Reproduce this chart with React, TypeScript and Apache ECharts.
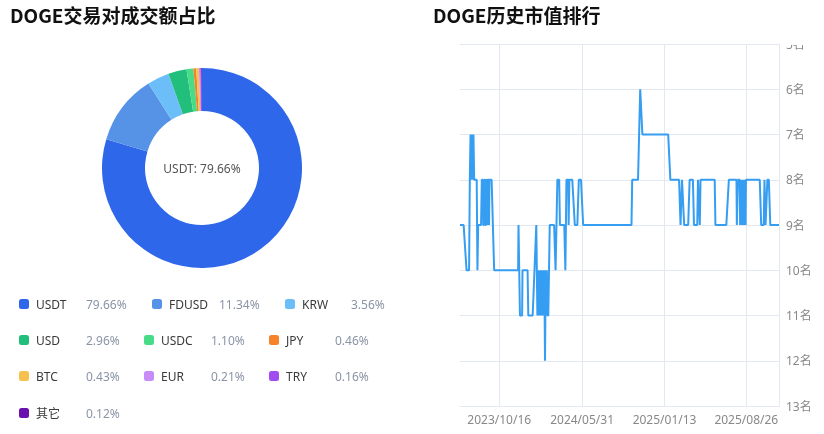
import React, { useEffect, useRef } from "react";
import * as echarts from "echarts";

// 交易对成交额占比
const pairNames = ["USDT", "FDUSD", "KRW", "USD", "USDC", "JPY", "BTC", "EUR", "TRY", "其它"];
const pairShares = [79.66, 11.34, 3.56, 2.96, 1.1, 0.46, 0.43, 0.21, 0.16, 0.12];
const pairColors = [
  "#2e67ea", "#5692e6", "#6cbef9", "#22be7b", "#49dc88",
  "#f6822a", "#f8c14d", "#c68cf8", "#9f4df0", "#6a10b1",
];

// 历史市值排名
const firstDate = "2023-06-30";
const lastDate = "2025-11-24";
const rankDates = [
  "2023-06-30", "2023-07-10", "2023-07-18", "2023-07-25", "2023-07-27", "2023-07-29", "2023-07-30",
  "2023-07-31", "2023-08-01", "2023-08-02", "2023-08-03", "2023-08-04", "2023-08-05", "2023-08-06",
  "2023-08-07", "2023-08-08", "2023-08-15", "2023-08-17", "2023-08-19", "2023-08-27", "2023-08-29",
  "2023-09-01", "2023-09-02", "2023-09-04", "2023-09-05", "2023-09-07", "2023-09-08", "2023-09-10",
  "2023-09-11", "2023-09-13", "2023-09-14", "2023-09-15", "2023-09-17", "2023-09-18", "2023-09-19",
  "2023-09-25", "2023-10-02", "2023-12-07", "2023-12-08", "2023-12-12", "2023-12-18", "2023-12-19",
  "2024-01-02", "2024-01-04", "2024-01-16", "2024-01-26", "2024-01-29", "2024-02-01", "2024-02-03",
  "2024-02-04", "2024-02-06", "2024-02-07", "2024-02-09", "2024-02-10", "2024-02-12", "2024-02-13",
  "2024-02-15", "2024-02-16", "2024-02-18", "2024-02-19", "2024-02-20", "2024-02-21", "2024-02-23",
  "2024-02-24", "2024-02-26", "2024-02-28", "2024-03-03", "2024-03-15", "2024-03-19", "2024-03-24",
  "2024-03-29", "2024-03-31", "2024-04-12", "2024-04-15", "2024-04-18", "2024-04-23", "2024-04-24",
  "2024-04-26", "2024-05-04", "2024-05-11", "2024-05-18", "2024-05-22", "2024-05-28", "2024-06-03",
  "2024-10-14", "2024-10-16", "2024-11-01", "2024-11-07", "2024-11-13", "2025-01-23", "2025-01-29",
  "2025-02-22", "2025-02-26", "2025-03-02", "2025-03-08", "2025-03-19", "2025-03-23", "2025-04-01",
  "2025-04-04", "2025-04-13", "2025-04-15", "2025-04-20", "2025-04-22", "2025-05-31", "2025-06-02",
  "2025-07-02", "2025-07-09", "2025-07-30", "2025-07-31", "2025-08-03", "2025-08-08", "2025-08-09",
  "2025-08-10", "2025-08-11", "2025-08-12", "2025-08-13", "2025-08-14", "2025-08-15", "2025-08-16",
  "2025-08-18", "2025-08-19", "2025-08-21", "2025-08-22", "2025-08-24", "2025-08-25", "2025-10-02",
  "2025-10-06", "2025-10-13", "2025-10-15", "2025-10-18", "2025-10-23", "2025-10-27", "2025-10-31",
  "2025-11-24",
];
const ranks = [
  9, 9, 10, 10, 8, 7, 8,
  7, 8, 7, 8, 7, 8, 7,
  7, 8, 8, 10, 9, 9, 8,
  8, 9, 9, 8, 8, 9, 9,
  8, 8, 9, 8, 8, 9, 8,
  8, 10, 10, 9, 11, 11, 10,
  10, 11, 11, 9, 11, 10, 11,
  10, 11, 10, 11, 10, 11, 10,
  11, 10, 11, 12, 11, 10, 11,
  10, 11, 11, 9, 9, 10, 8,
  8, 9, 9, 10, 8, 8, 9,
  8, 8, 9, 9, 8, 8, 9,
  9, 8, 8, 6, 7, 7, 8,
  8, 9, 8, 9, 9, 8, 8,
  9, 9, 8, 9, 8, 8, 9,
  9, 8, 8, 9, 8, 8, 9,
  8, 9, 8, 9, 8, 9, 8,
  9, 8, 9, 8, 9, 8, 8,
  9, 9, 8, 9, 8, 8, 9,
  9,
];
const dateTicks = ["2023-10-16", "2024-05-31", "2025-01-13", "2025-08-26"];

// legend placement: icon x, row centre y, name column width
const legendX = [19, 152, 285, 19, 144, 269, 19, 144, 269, 19];
const legendY = [305, 305, 305, 341, 341, 341, 377, 377, 377, 414];
const legendNameW = [50, 50, 49, 50, 50, 49, 50, 50, 49, 50];

const FONT = '"Noto Sans", "Noto Sans CJK SC", sans-serif';
const TITLE_FONT = '"Noto Sans CJK SC", sans-serif';
const DAY = 86400000;

// one category per calendar day between the first and last date
function dayCategories(from: string, to: string) {
  const out: string[] = [];
  const end = Date.parse(to + "T00:00:00Z");
  for (let t = Date.parse(from + "T00:00:00Z"); t <= end; t += DAY) {
    out.push(new Date(t).toISOString().slice(0, 10));
  }
  return out;
}

export default function App() {
  const chartRef = useRef<HTMLDivElement>(null);

  useEffect(() => {
    const chart = echarts.init(chartRef.current!, null, { renderer: "svg" });
    const days = dayCategories(firstDate, lastDate);
    const isTick = (_i: number, v: string) => dateTicks.includes(v);

    const legends = pairNames.map((name, i) => ({
      data: [name],
      left: legendX[i],
      top: legendY[i] - 7,
      padding: 0,
      itemWidth: 10,
      itemHeight: 10,
      icon: "roundRect",
      formatter: (n: string) => `{n|${n}}{v|${pairShares[i].toFixed(2)}%}`,
      textStyle: {
        rich: {
          n: { width: legendNameW[i], color: "#3a3a3a", fontSize: 12, padding: [0, 0, 0, 2], fontFamily: FONT },
          v: { color: "#8a94a6", fontSize: 12, fontFamily: FONT },
        },
      },
    }));

    chart.setOption({
      animation: false,
      textStyle: { fontFamily: FONT },
      title: [
        {
          text: "DOGE交易对成交额占比",
          left: 10,
          top: 5,
          padding: 0,
          textStyle: { fontSize: 19, fontWeight: "bold", color: "#111", fontFamily: TITLE_FONT },
        },
        {
          text: "DOGE历史市值排行",
          left: 433,
          top: 5,
          padding: 0,
          textStyle: { fontSize: 19, fontWeight: "bold", color: "#111", fontFamily: TITLE_FONT },
        },
      ],
      legend: legends,
      grid: { left: 460, right: 45, top: 44, bottom: 28 },
      xAxis: {
        type: "category",
        boundaryGap: false,
        data: days,
        axisLine: { show: true, onZero: false, lineStyle: { color: "#e3e8f2" } },
        axisTick: { show: false, interval: isTick },
        axisLabel: {
          interval: isTick,
          formatter: (v: string) => v.replace(/-/g, "/"),
          color: "#888",
          fontSize: 12,
          margin: 7,
        },
        splitLine: { show: true, interval: isTick, lineStyle: { color: "#e3e8f2" } },
      },
      yAxis: {
        type: "value",
        position: "right",
        inverse: true,
        min: 5,
        max: 13,
        interval: 1,
        axisLine: { show: true, lineStyle: { color: "#e3e8f2" } },
        axisTick: { show: false },
        axisLabel: { formatter: "{value}名", color: "#888", fontSize: 12, margin: 7 },
        splitLine: { lineStyle: { color: "#e3e8f2" } },
      },
      // the top of the panel hides the upper half of the first rank label
      graphic: [
        {
          type: "rect",
          left: 781,
          top: 0,
          z: 100,
          shape: { width: 43, height: 45 },
          style: { fill: "#fff" },
        },
      ],
      series: [
        {
          type: "pie",
          center: [202, 168],
          radius: [57, 100],
          startAngle: 90,
          clockwise: true,
          label: { show: false },
          labelLine: { show: false },
          data: pairNames.map((name, i) => ({
            name,
            value: pairShares[i],
            itemStyle: { color: pairColors[i] },
            label:
              i === 0
                ? { show: true, position: "center", formatter: "{b}: {d}%", color: "#555", fontSize: 12 }
                : undefined,
          })),
        },
        {
          type: "line",
          showSymbol: false,
          lineStyle: { width: 2, color: "#359ef2" },
          itemStyle: { color: "#359ef2" },
          data: rankDates.map((d, i) => [d, ranks[i]]),
        },
      ],
    });

    return () => chart.dispose();
  }, []);

  return (
    <div
      ref={chartRef}
      style={{ position: "fixed", left: 0, top: 0, width: 824, height: 434 }}
    />
  );
}
